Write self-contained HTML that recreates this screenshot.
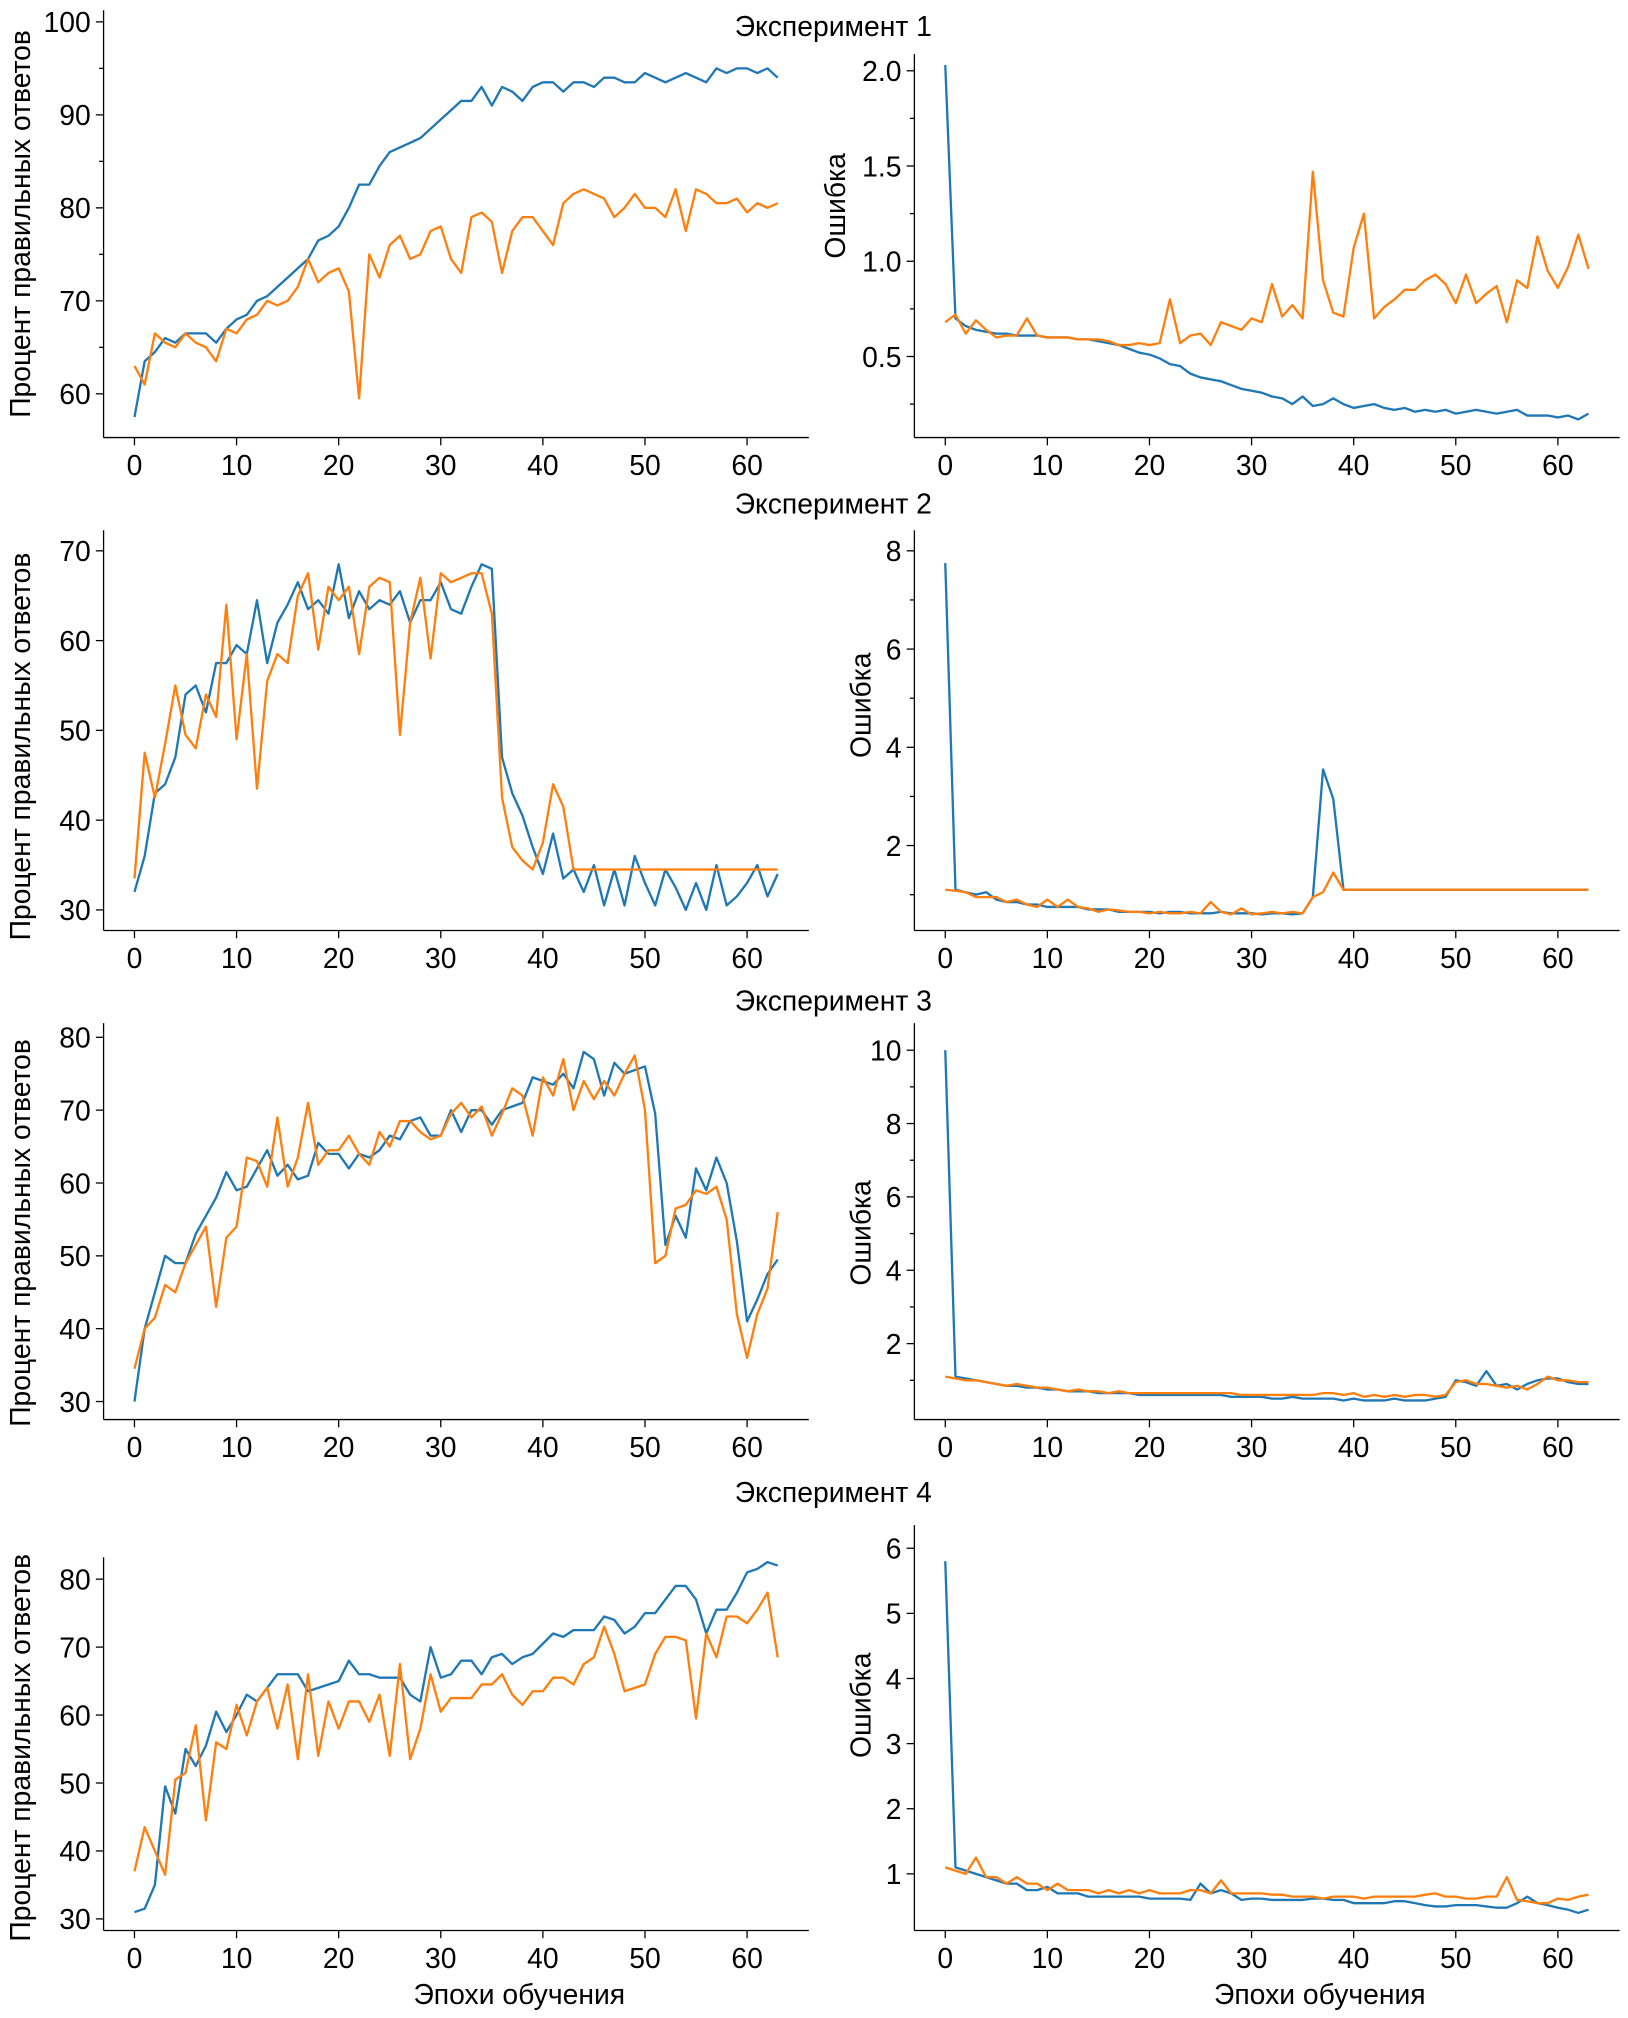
<!DOCTYPE html>
<html><head><meta charset="utf-8">
<style>
html,body{margin:0;padding:0;background:#fff;}
svg{display:block;font-family:"Liberation Sans","DejaVu Sans",sans-serif;}
</style></head>
<body>
<svg id="fig" width="1628" height="2018" viewBox="0 0 1264 1568" xmlns="http://www.w3.org/2000/svg"></svg>
<script>
const epochs = Array.from({length:64},(_,i)=>i);
const xTicks = [0,10,20,30,40,50,60];
const titles = ["Эксперимент 1","Эксперимент 2","Эксперимент 3","Эксперимент 4"];

const acc1Train=[57.5,63.5,64.5,66,65.5,66.5,66.5,66.5,65.5,67,68,68.5,70,70.5,71.5,72.5,73.5,74.5,76.5,77,78,80,82.5,82.5,84.5,86,86.5,87,87.5,88.5,89.5,90.5,91.5,91.5,93,91,93,92.5,91.5,93,93.5,93.5,92.5,93.5,93.5,93,94,94,93.5,93.5,94.5,94,93.5,94,94.5,94,93.5,95,94.5,95,95,94.5,95,94];
const acc1Val=[63,61,66.5,65.5,65,66.5,65.5,65,63.5,67,66.5,68,68.5,70,69.5,70,71.5,74.5,72,73,73.5,71,59.5,75,72.5,76,77,74.5,75,77.5,78,74.5,73,79,79.5,78.5,73,77.5,79,79,77.5,76,80.5,81.5,82,81.5,81,79,80,81.5,80,80,79,82,77.5,82,81.5,80.5,80.5,81,79.5,80.5,80,80.5];
const loss1Train=[2.03,0.7,0.66,0.64,0.63,0.62,0.62,0.61,0.61,0.61,0.6,0.6,0.6,0.59,0.59,0.58,0.57,0.56,0.54,0.52,0.51,0.49,0.46,0.45,0.41,0.39,0.38,0.37,0.35,0.33,0.32,0.31,0.29,0.28,0.25,0.29,0.24,0.25,0.28,0.25,0.23,0.24,0.25,0.23,0.22,0.23,0.21,0.22,0.21,0.22,0.2,0.21,0.22,0.21,0.2,0.21,0.22,0.19,0.19,0.19,0.18,0.19,0.17,0.2];
const loss1Val=[0.68,0.72,0.62,0.69,0.64,0.6,0.61,0.61,0.7,0.61,0.6,0.6,0.6,0.59,0.59,0.59,0.58,0.56,0.56,0.57,0.56,0.57,0.8,0.57,0.61,0.62,0.56,0.68,0.66,0.64,0.7,0.68,0.88,0.71,0.77,0.7,1.47,0.9,0.73,0.71,1.07,1.25,0.7,0.76,0.8,0.85,0.85,0.9,0.93,0.88,0.78,0.93,0.78,0.83,0.87,0.68,0.9,0.86,1.13,0.95,0.86,0.97,1.14,0.96];

const acc2Train=[32,36,43,44,47,54,55,52,57.5,57.5,59.5,58.5,64.5,57.5,62,64,66.5,63.5,64.5,63,68.5,62.5,65.5,63.5,64.5,64,65.5,62,64.5,64.5,66.5,63.5,63,66,68.5,68,47,43,40.5,37,34,38.5,33.5,34.5,32,35,30.5,34.5,30.5,36,33,30.5,34.5,32.5,30,33,30,35,30.5,31.5,33,35,31.5,34];
const acc2Val=[33.5,47.5,42.5,48.5,55,49.5,48,54,51.5,64,49,58.5,43.5,55.5,58.5,57.5,65,67.5,59,66,64.5,66,58.5,66,67,66.5,49.5,62,67,58,67.5,66.5,67,67.5,67.5,63,42.5,37,35.5,34.5,37.5,44,41.5,34.5,34.5,34.5,34.5,34.5,34.5,34.5,34.5,34.5,34.5,34.5,34.5,34.5,34.5,34.5,34.5,34.5,34.5,34.5,34.5,34.5];
const loss2Train=[7.75,1.1,1.05,1.0,1.05,0.9,0.85,0.85,0.8,0.8,0.75,0.75,0.75,0.75,0.7,0.7,0.7,0.65,0.65,0.65,0.65,0.62,0.65,0.65,0.62,0.62,0.62,0.65,0.62,0.62,0.62,0.6,0.62,0.62,0.6,0.62,0.95,3.55,2.95,1.1,1.1,1.1,1.1,1.1,1.1,1.1,1.1,1.1,1.1,1.1,1.1,1.1,1.1,1.1,1.1,1.1,1.1,1.1,1.1,1.1,1.1,1.1,1.1,1.1];
const loss2Val=[1.1,1.08,1.05,0.95,0.95,0.95,0.85,0.9,0.8,0.75,0.9,0.75,0.9,0.75,0.72,0.65,0.7,0.68,0.65,0.65,0.62,0.65,0.62,0.62,0.65,0.62,0.85,0.65,0.6,0.72,0.6,0.62,0.65,0.62,0.65,0.62,0.95,1.05,1.45,1.1,1.1,1.1,1.1,1.1,1.1,1.1,1.1,1.1,1.1,1.1,1.1,1.1,1.1,1.1,1.1,1.1,1.1,1.1,1.1,1.1,1.1,1.1,1.1,1.1];

const acc3Train=[30,40,45,50,49,49,53,55.5,58,61.5,59,59.5,62,64.5,61,62.5,60.5,61,65.5,64,64,62,64,63.5,64.5,66.5,66,68.5,69,66.5,66.5,70,67,70,70,68,70,70.5,71,74.5,74,73.5,75,73,78,77,72,76.5,75,75.5,76,69.5,51.5,55.5,52.5,62,59,63.5,60,52,41,44,47.5,49.5];
const acc3Val=[34.5,40,41.5,46,45,49,51.5,54,43,52.5,54,63.5,63,59.5,69,59.5,63.5,71,62.5,64.5,64.5,66.5,64,62.5,67,65,68.5,68.5,67,66,66.5,69.5,71,69,70.5,66.5,69.5,73,72,66.5,74.5,72,77,70,74,71.5,74,72,75,77.5,70,49,50,56.5,57,59,58.5,59.5,55,42,36,42,45.5,56];
const loss3Train=[10,1.1,1.05,1.0,0.95,0.9,0.85,0.85,0.8,0.8,0.75,0.75,0.7,0.7,0.7,0.65,0.65,0.65,0.65,0.6,0.6,0.6,0.6,0.6,0.6,0.6,0.6,0.6,0.55,0.55,0.55,0.55,0.5,0.5,0.55,0.5,0.5,0.5,0.5,0.45,0.5,0.45,0.45,0.45,0.5,0.45,0.45,0.45,0.5,0.55,1.0,0.95,0.85,1.25,0.85,0.9,0.75,0.9,1.0,1.05,1.05,0.95,0.9,0.9];
const loss3Val=[1.1,1.05,1.0,1.0,0.95,0.9,0.85,0.9,0.85,0.8,0.8,0.75,0.7,0.75,0.7,0.7,0.65,0.7,0.65,0.65,0.65,0.65,0.65,0.65,0.65,0.65,0.65,0.65,0.65,0.6,0.6,0.6,0.6,0.6,0.6,0.6,0.6,0.65,0.65,0.6,0.65,0.55,0.6,0.55,0.6,0.55,0.6,0.6,0.55,0.6,0.95,1.0,0.9,0.9,0.85,0.8,0.85,0.75,0.9,1.1,1.0,1.0,0.95,0.95];

const acc4Train=[31,31.5,35,49.5,45.5,55,52.5,55.5,60.5,57.5,60,63,62,64,66,66,66,63.5,64,64.5,65,68,66,66,65.5,65.5,65.5,63,62,70,65.5,66,68,68,66,68.5,69,67.5,68.5,69,70.5,72,71.5,72.5,72.5,72.5,74.5,74,72,73,75,75,77,79,79,77,72,75.5,75.5,78,81,81.5,82.5,82];
const acc4Val=[37,43.5,40,36.5,50.5,51.5,58.5,44.5,56,55,61.5,57,62,64,58,64.5,53.5,66,54,62,58,62,62,59,63,54,67.5,53.5,58,66,60.5,62.5,62.5,62.5,64.5,64.5,66,63,61.5,63.5,63.5,65.5,65.5,64.5,67.5,68.5,73,69,63.5,64,64.5,69,71.5,71.5,71,59.5,72,68.5,74.5,74.5,73.5,75.5,78,68.5];
const loss4Train=[5.8,1.1,1.05,1.0,0.95,0.9,0.85,0.85,0.75,0.75,0.8,0.7,0.7,0.7,0.65,0.65,0.65,0.65,0.65,0.65,0.62,0.62,0.62,0.62,0.6,0.85,0.7,0.75,0.7,0.6,0.62,0.62,0.6,0.6,0.6,0.6,0.62,0.62,0.6,0.6,0.55,0.55,0.55,0.55,0.58,0.58,0.55,0.52,0.5,0.5,0.52,0.52,0.52,0.5,0.48,0.48,0.55,0.65,0.55,0.52,0.48,0.45,0.4,0.45];
const loss4Val=[1.1,1.05,1.0,1.25,0.95,0.95,0.85,0.95,0.85,0.85,0.75,0.85,0.75,0.75,0.75,0.7,0.75,0.7,0.75,0.7,0.75,0.7,0.7,0.7,0.75,0.75,0.7,0.9,0.7,0.7,0.7,0.7,0.68,0.68,0.65,0.65,0.65,0.62,0.65,0.65,0.65,0.62,0.65,0.65,0.65,0.65,0.65,0.68,0.7,0.65,0.65,0.62,0.62,0.65,0.65,0.95,0.6,0.58,0.55,0.55,0.62,0.6,0.65,0.68];

const accTicks1=[60,70,80,90,100], accTicks2=[30,40,50,60,70], accTicks3=[30,40,50,60,70,80], accTicks4=[30,40,50,60,70,80];
const lossTicks1=[0.5,1.0,1.5,2.0], lossTicks2=[2,4,6,8], lossTicks3=[2,4,6,8,10], lossTicks4=[1,2,3,4,5,6];

const svg=document.getElementById('fig');
const NS='http://www.w3.org/2000/svg';
function mk(tag,attrs,parent){const e=document.createElementNS(NS,tag);for(const k in attrs)e.setAttribute(k,attrs[k]);(parent||svg).appendChild(e);return e;}

const panels=[
 {x0:80,x1:628,top:8,bot:340,xa:104,xb:580,va:60,pa:306,vb:100,pb:17,ticks:accTicks1,minor:5,fmt:v=>v,tr:acc1Train,va_:acc1Val,name:'accuracy-exp1',lab:'left',labY:174},
 {x0:710,x1:1258,top:42,bot:340,xa:734,xb:1210,va:0.5,pa:277,vb:1.0,pb:203,ticks:lossTicks1,minor:0.25,fmt:v=>v.toFixed(1),tr:loss1Train,va_:loss1Val,name:'loss-exp1',lab:'right',labX:648,labY:160},
 {x0:80,x1:628,top:412,bot:723,xa:104,xb:580,va:30,pa:707,vb:70,pb:428,ticks:accTicks2,minor:null,fmt:v=>v,tr:acc2Train,va_:acc2Val,name:'accuracy-exp2',lab:'left',labY:580},
 {x0:710,x1:1258,top:412,bot:723,xa:734,xb:1210,va:2,pa:657,vb:8,pb:428,ticks:lossTicks2,minor:1,fmt:v=>v,tr:loss2Train,va_:loss2Val,name:'loss-exp2',lab:'right',labX:668,labY:548},
 {x0:80,x1:628,top:795,bot:1103,xa:104,xb:580,va:30,pa:1089,vb:80,pb:806,ticks:accTicks3,minor:null,fmt:v=>v,tr:acc3Train,va_:acc3Val,name:'accuracy-exp3',lab:'left',labY:958},
 {x0:710,x1:1258,top:795,bot:1103,xa:734,xb:1210,va:2,pa:1044,vb:10,pb:816,ticks:lossTicks3,minor:1,fmt:v=>v,tr:loss3Train,va_:loss3Val,name:'loss-exp3',lab:'right',labX:668,labY:958},
 {x0:80,x1:628,top:1210,bot:1500,xa:104,xb:580,va:30,pa:1491,vb:80,pb:1227,ticks:accTicks4,minor:null,fmt:v=>v,tr:acc4Train,va_:acc4Val,name:'accuracy-exp4',lab:'left',labY:1358},
 {x0:710,x1:1258,top:1185,bot:1500,xa:734,xb:1210,va:1,pa:1456,vb:6,pb:1203,ticks:lossTicks4,minor:null,fmt:v=>v,tr:loss4Train,va_:loss4Val,name:'loss-exp4',lab:'right',labX:668,labY:1325},
];

titles.forEach((t,i)=>{
  const ys=[28,399,785,1167];
  const e=mk('text',{x:647,y:ys[i],'text-anchor':'middle','font-size':22,fill:'#000'});
  e.textContent=t;
  
  
});

panels.forEach((p,pi)=>{
  const g=mk('g',{});
  
  
  const X=v=>p.xa+(v-0)*(p.xb-p.xa)/60;
  const Y=v=>p.pa+(v-p.va)*(p.pb-p.pa)/(p.vb-p.va);
  mk('line',{x1:p.x0,y1:p.top,x2:p.x0,y2:p.bot,stroke:'#000','stroke-width':1},g);
  mk('line',{x1:p.x0,y1:p.bot,x2:p.x1,y2:p.bot,stroke:'#000','stroke-width':1},g);
  xTicks.forEach(t=>{
    mk('line',{x1:X(t),y1:p.bot,x2:X(t),y2:p.bot+6,stroke:'#000'},g);
    const e=mk('text',{x:X(t),y:p.bot+29,'text-anchor':'middle','font-size':22},g);
    e.textContent=t;
    
    
  });
  p.ticks.forEach(t=>{
    mk('line',{x1:p.x0-6,y1:Y(t),x2:p.x0,y2:Y(t),stroke:'#000'},g);
    const e=mk('text',{x:p.x0-10,y:Y(t)+8,'text-anchor':'end','font-size':22},g);
    e.textContent=p.fmt(t);
    
    
  });
  if(p.minor){
    const lo=p.ticks[0], hi=p.ticks[p.ticks.length-1];
    for(let v=lo-p.minor; v<=hi+1e-9; v+=p.minor){
      const py=Y(v);
      if(py<p.top||py>p.bot) continue;
      if(p.ticks.some(t=>Math.abs(t-v)<1e-9)) continue;
      mk('line',{x1:p.x0-3.5,y1:py,x2:p.x0,y2:py,stroke:'#000'},g);
    }
  }
  if(p.lab==='left'){
    const e=mk('text',{x:0,y:0,'text-anchor':'middle','font-size':22,transform:`translate(23,${p.labY}) rotate(-90)`},g);
    e.textContent='Процент правильных ответов';
    
    
  } else {
    const e=mk('text',{x:0,y:0,'text-anchor':'middle','font-size':22,transform:`translate(${p.labX+8},${p.labY}) rotate(-90)`},g);
    e.textContent='Ошибка';
    
    
  }
  [[p.tr,'#1f77b4','train'],[p.va_,'#ff7f0e','val']].forEach(([arr,col,nm])=>{
    const pts=arr.slice(0,64).map((v,i)=>X(epochs[i]).toFixed(2)+','+Y(v).toFixed(2)).join(' ');
    const l=mk('polyline',{points:pts,fill:'none',stroke:col,'stroke-width':1.8,'stroke-linejoin':'round'},g);
    
    
  });
});
[403,1025].forEach((x,i)=>{
  const e=mk('text',{x:x,y:1557,'text-anchor':'middle','font-size':22});
  e.textContent='Эпохи обучения';
  
  
});
</script>
</body></html>
